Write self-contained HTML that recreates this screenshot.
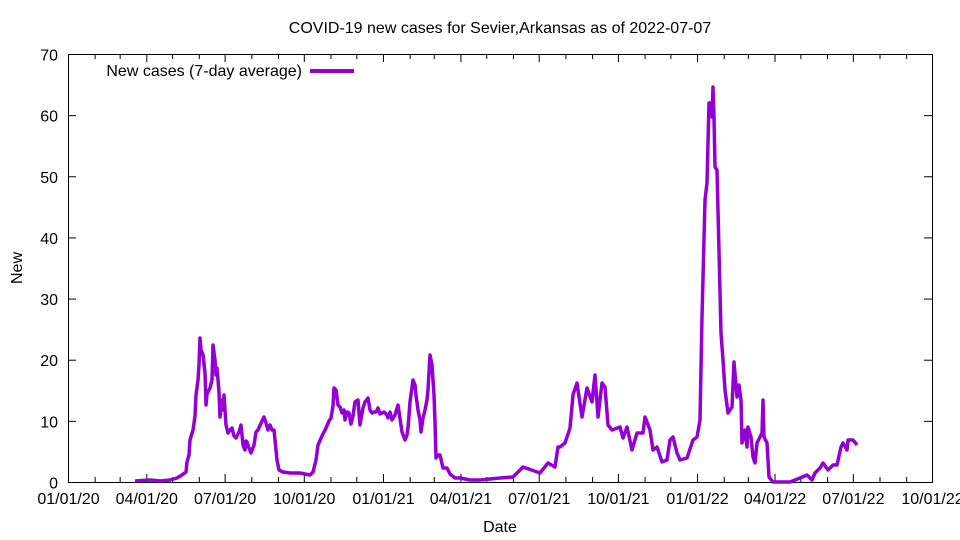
<!DOCTYPE html>
<html><head><meta charset="utf-8"><style>body{margin:0;background:#fff}svg{display:block}text{font-family:"Liberation Sans",sans-serif;font-size:16px;fill:#000}</style></head>
<body>
<svg width="960" height="540" viewBox="0 0 960 540" xmlns="http://www.w3.org/2000/svg">
<rect width="960" height="540" fill="#fff"/>
<text x="500" y="33" text-anchor="middle">COVID-19 new cases for Sevier,Arkansas as of 2022-07-07</text>
<g id="ticks" stroke="#000" stroke-width="1"></g>
<rect x="68.5" y="54.5" width="864" height="428" fill="none" stroke="#000" stroke-width="1"/>
<g id="labels"></g>
<text x="500" y="532" text-anchor="middle">Date</text>
<text transform="translate(22,268) rotate(-90)" text-anchor="middle">New</text>
<text x="302" y="76" text-anchor="end">New cases (7-day average)</text>
<line x1="310" y1="71" x2="354" y2="71" stroke="#9400d3" stroke-width="4"/>
<polyline fill="none" stroke="#9400d3" stroke-width="3.5" stroke-linejoin="round" points="135,481 150,480 160,481 170,480 177,478 182,475 186,472 187,462 189,455 190,440 193,430 195,416 196,395 198,380 199,365 200,338 201,350 203,355 205,373 206,405 207,394 210,388 212,380 213,345 215,360 216,375 217,368 219,392 220,417 222,400 223,410 224,395 226,425 228,433 230,430 232,428 234,436 236,438 239,432 241,425 243,445 245,450 246,441 247,442 249,448 251,453 254,445 256,432 258,430 262,421 264,417 266,423 268,430 270,425 272,430 274,430 277,460 279,470 283,472 290,473 300,473 310,475 313,472 316,460 318,445 322,436 326,428 329,421 331,418 333,406 334,388 336,390 338,405 340,407 342,413 344,410 345,420 347,412 349,413 351,424 353,416 355,402 358,400 360,425 363,408 365,402 368,398 370,410 372,413 374,412 376,412 378,408 380,414 384,412 387,415 388,418 390,412 392,420 395,415 398,405 402,432 405,440 407,435 408,428 410,402 413,380 415,385 416,395 418,410 420,420 421,432 423,418 425,410 427,400 428,390 430,355 432,365 433,380 434,395 435,422 436,458 438,455 440,455 443,468 447,468 450,474 455,478 460,478 470,480 480,480 500,478 513,477 523,467 540,473 548,463 555,467 558,447 560,447 565,443 570,428 573,395 577,383 582,417 587,388 592,402 595,375 598,417 602,383 605,387 608,425 612,430 620,427 623,438 627,427 632,450 637,433 643,433 645,417 650,430 653,450 657,447 662,462 667,460 670,440 673,437 677,453 680,460 687,458 693,440 697,437 700,420 702,317 705,200 707,183 709,103 710,103 712,117 713,87 714,117 715,167 717,170 721,333 723,360 725,390 728,413 732,407 734,362 737,397 739,385 741,400 742,443 745,430 747,447 748,427 751,437 753,457 755,463 757,443 760,437 762,433 763,400 764,437 767,443 769,477 773,482 790,482 800,478 807,475 812,480 815,473 820,468 823,463 828,470 833,465 837,465 841,447 843,443 847,450 848,440 853,440 857,445"/>
</svg>
<script>
var t=document.getElementById('ticks'),l=document.getElementById('labels'),ns='http://www.w3.org/2000/svg';
function ln(x1,y1,x2,y2){var e=document.createElementNS(ns,'line');e.setAttribute('x1',x1);e.setAttribute('y1',y1);e.setAttribute('x2',x2);e.setAttribute('y2',y2);t.appendChild(e);}
function tx(x,y,s,a){var e=document.createElementNS(ns,'text');e.setAttribute('x',x);e.setAttribute('y',y);e.setAttribute('text-anchor',a);e.textContent=s;l.appendChild(e);}
for(var i=0;i<=7;i++){var y=482.5-i*428/7;ln(68,y,76,y);ln(932,y,924,y);tx(58,y+6,String(i*10),'end');}
var s=Date.UTC(2020,0,1),k=864/1004;
for(var m=0;m<=33;m++){var d=Date.UTC(2020,m,1);var x=68.5+(d-s)/864e5*k;var L=(m%3==0)?8:5;ln(x,482,x,482-L);ln(x,54,x,54+L);
if(m%3==0){var dt=new Date(d);var mm=('0'+(dt.getUTCMonth()+1)).slice(-2);var yy=String(dt.getUTCFullYear()).slice(2);tx(x,504,mm+'/01/'+yy,'middle');}}
</script>
</body></html>
